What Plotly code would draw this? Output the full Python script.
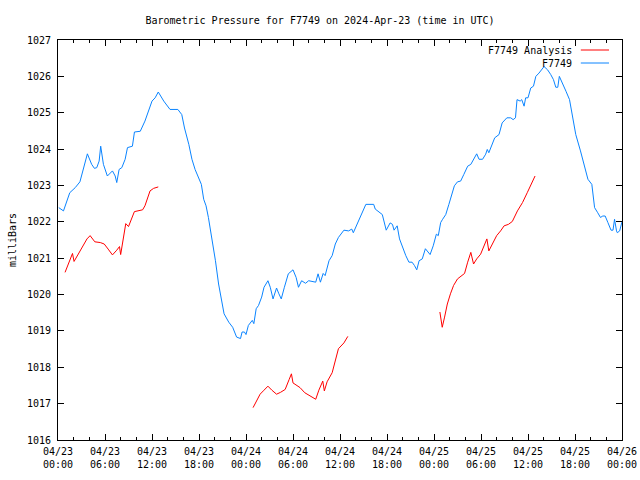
import pandas as pd
import plotly.graph_objects as go

# ---- data (hours after 2024-04-23 00:00 UTC, pressure in mb) ----
blue_hours = [0.1, 0.7, 1.5, 2.2, 2.8, 3.0, 3.45, 3.75, 4.3, 4.65, 4.95, 5.25, 5.45, 5.8, 6.3, 6.95,
              7.3, 7.5, 7.8, 8.15, 8.57, 8.87, 9.5, 9.76, 10.5, 11.1, 12.0, 12.4, 12.8, 13.5, 14.3,
              15.3, 15.8, 16.15, 16.7, 17.1, 17.5, 17.95, 18.3, 18.6, 18.9, 19.2, 19.65, 20.1, 20.5,
              20.9, 21.2, 21.8, 22.3, 22.8, 23.3, 23.5, 23.8, 24.0, 24.3, 24.8, 25.0, 25.3, 25.6,
              26.0, 26.3, 26.8, 27.1, 27.45, 27.9, 28.2, 28.5, 28.9, 29.4, 30.0, 30.4, 30.7, 31.1,
              31.6, 32.0, 32.9, 33.2, 33.5, 33.85, 34.1, 34.6, 35.0, 35.4, 35.8, 36.5, 37.1, 37.5,
              37.7, 38.2, 38.7, 39.3, 40.3, 40.5, 41.4, 41.6, 41.9, 42.4, 42.7, 42.9, 43.3, 43.6,
              43.95, 44.4, 44.8, 45.2, 45.5, 45.8, 46.1, 46.5, 46.9, 47.5, 47.9, 48.3, 48.55, 48.85,
              49.1, 49.5, 49.9, 50.3, 50.6, 51.0, 51.4, 51.8, 52.3, 52.7, 53.1, 53.45, 53.75, 54.2,
              54.6, 54.8, 55.0, 55.45, 55.75, 56.3, 56.7, 57.3, 57.8, 58.1, 58.4, 58.6, 59.0, 59.2,
              59.5, 59.7, 60.0, 60.35, 60.7, 61.0, 61.4, 62.05, 62.5, 62.9, 63.25, 63.55, 63.8, 64.0,
              64.4, 64.85, 65.3, 65.7, 66.1, 66.7, 67.2, 67.65, 68.15, 68.5, 68.9, 69.25, 69.55,
              69.85, 70.2, 70.6, 70.85, 71.05, 71.3, 71.4, 71.7, 71.9, 72.0]
blue_mb = [1022.39, 1022.3, 1022.8, 1022.94, 1023.1, 1023.26, 1023.67, 1023.87, 1023.58, 1023.47,
           1023.49, 1023.67, 1024.08, 1023.58, 1023.26, 1023.4, 1023.26, 1023.08, 1023.44, 1023.49,
           1023.72, 1024.04, 1024.08, 1024.47, 1024.49, 1024.77, 1025.32, 1025.41, 1025.57, 1025.32,
           1025.09, 1025.09, 1024.95, 1024.58, 1024.13, 1023.72, 1023.44, 1023.21, 1023.03, 1022.62,
           1022.44, 1022.12, 1021.57, 1020.93, 1020.29, 1019.84, 1019.47, 1019.24, 1019.1, 1018.83,
           1018.79, 1018.97, 1018.97, 1018.9, 1019.15, 1019.29, 1019.2, 1019.61, 1019.7, 1019.93,
           1020.2, 1020.38, 1020.2, 1019.88, 1020.18, 1020.02, 1019.88, 1020.2, 1020.57, 1020.68,
           1020.47, 1020.2, 1020.38, 1020.31, 1020.38, 1020.34, 1020.57, 1020.34, 1020.58, 1020.52,
           1020.93, 1021.07, 1021.39, 1021.57, 1021.77, 1021.75, 1021.8, 1021.7, 1021.93, 1022.2,
           1022.48, 1022.48, 1022.35, 1022.2, 1022.0, 1021.77, 1021.97, 1021.93, 1021.77, 1021.89,
           1021.53, 1021.3, 1021.07, 1020.89, 1020.89, 1020.8, 1020.68, 1020.93, 1020.98, 1021.26,
           1021.1, 1021.34, 1021.66, 1021.62, 1021.98, 1022.07, 1022.2, 1022.48, 1022.8, 1022.99,
           1023.1, 1023.12, 1023.3, 1023.53, 1023.58, 1023.72, 1023.87, 1023.72, 1023.72, 1023.86,
           1023.99, 1023.9, 1024.13, 1024.31, 1024.4, 1024.72, 1024.86, 1024.86, 1024.81, 1024.86,
           1025.36, 1025.32, 1025.36, 1025.18, 1025.41, 1025.41, 1025.68, 1025.73, 1026.0, 1026.09,
           1026.27, 1026.18, 1026.05, 1025.91, 1025.7, 1025.7, 1026.0, 1025.82, 1025.59, 1025.36,
           1024.9, 1024.4, 1023.95, 1023.53, 1023.17, 1023.03, 1022.39, 1022.25, 1022.12, 1022.16,
           1022.16, 1021.98, 1021.77, 1021.77, 1022.07, 1021.75, 1021.7, 1021.75, 1021.98, 1022.0]

red_hours = [0.9, 1.5, 1.85, 2.05, 2.6, 3.2, 3.7, 4.1, 4.7, 5.4, 5.9, 6.4, 6.95, 7.5, 7.85, 8.0,
             8.3, 8.65, 9.0, 9.4, 9.75, 10.8, 11.1, 11.75, 12.2, 12.8, None,
             24.9, 25.3, 25.8, 26.3, 26.8, 27.3, 27.9, 28.4, 29.0, 29.5, 29.8, 30.0, 30.4, 30.9,
             31.5, 32.2, 32.9, 33.3, 33.8, 34.0, 34.35, 35.0, 35.4, 35.8, 36.5, 37.0, None,
             48.75, 49.05, 49.35, 49.7, 50.1, 50.5, 51.0, 51.4, 51.9, 52.3, 52.7, 53.05, 53.45,
             53.95, 54.5, 54.75, 55.0, 55.45, 56.0, 56.5, 56.95, 57.5, 58.0, 58.65, 59.3, 59.9,
             60.5, 60.9]
red_mb = [1020.61, 1020.95, 1021.13, 1020.91, 1021.11, 1021.34, 1021.53, 1021.62, 1021.45, 1021.43,
          1021.39, 1021.25, 1021.09, 1021.22, 1021.32, 1021.1, 1021.48, 1021.95, 1021.87, 1022.07,
          1022.28, 1022.33, 1022.44, 1022.85, 1022.92, 1022.96, None,
          1016.89, 1017.05, 1017.26, 1017.37, 1017.48, 1017.37, 1017.26, 1017.31, 1017.39, 1017.66,
          1017.82, 1017.57, 1017.51, 1017.44, 1017.3, 1017.21, 1017.12, 1017.37, 1017.62, 1017.35,
          1017.6, 1017.85, 1018.15, 1018.51, 1018.67, 1018.85, None,
          1019.52, 1019.1, 1019.38, 1019.74, 1020.02, 1020.25, 1020.43, 1020.5, 1020.58, 1020.89,
          1021.16, 1020.84, 1020.98, 1021.11, 1021.39, 1021.53, 1021.2, 1021.39, 1021.62, 1021.75,
          1021.89, 1021.93, 1022.01, 1022.3, 1022.53, 1022.8, 1023.08, 1023.26]

series_names = ["F7749 Analysis", "F7749"]
series_colors = ["#ff0000", "#0a84ff"]
start = pd.Timestamp("2024-04-23 00:00")
end = pd.Timestamp("2024-04-26 00:00")
title_text = "Barometric Pressure for F7749 on 2024-Apr-23 (time in UTC)"

def to_time(hours):
    return [None if h is None else start + pd.Timedelta(hours=h) for h in hours]

FONT = "DejaVu Sans Mono"
W, H = 640, 480

fig = go.Figure()
fig.add_trace(go.Scatter(x=to_time(red_hours), y=red_mb, mode="lines", name=series_names[0],
                         line=dict(color=series_colors[0], width=1), connectgaps=False))
fig.add_trace(go.Scatter(x=to_time(blue_hours), y=blue_mb, mode="lines", name=series_names[1],
                         line=dict(color=series_colors[1], width=1)))

fig.update_layout(
    width=W, height=H,
    margin=dict(l=58, r=18, t=40, b=40, autoexpand=False),
    paper_bgcolor="white", plot_bgcolor="white",
    showlegend=False,
    font=dict(family=FONT, size=10, color="black"),
    title=dict(text=title_text, x=0.5, xanchor="center", y=1 - 20 / H, yanchor="middle",
               font=dict(family=FONT, size=10, color="black")),
)
fig.update_xaxes(
    type="date", range=[start, end], automargin=False, ticklabeloverflow="allow",
    dtick=6 * 3600 * 1000, tick0=start, tickformat="%m/%d<br>%H:%M",
    ticks="inside", ticklen=6, tickwidth=1, tickcolor="black",
    minor=dict(dtick=2 * 3600 * 1000, tick0=start, ticks="inside", ticklen=3, tickcolor="black", showgrid=False),
    showline=True, linecolor="black", linewidth=1, mirror="ticks",
    showgrid=False, zeroline=False, ticklabelstandoff=2,
    tickfont=dict(family=FONT, size=10, color="black"),
)
fig.update_yaxes(
    range=[1016, 1027], dtick=1, tick0=1016, automargin=False,
    ticks="inside", ticklen=6, tickwidth=1, tickcolor="black",
    showline=True, linecolor="black", linewidth=1, mirror="ticks",
    showgrid=False, zeroline=False, ticklabelstandoff=4,
    title=dict(text="milliBars", font=dict(family=FONT, size=10, color="black"), standoff=8),
    tickfont=dict(family=FONT, size=10, color="black"),
)

# legend in gnuplot style: text then sample line
legend_rows = [0.975, 0.9425]
for name, color, yr in zip(series_names, series_colors, legend_rows):
    fig.add_annotation(x=0.915, y=yr, xref="paper", yref="paper", text=name, showarrow=False,
                       xanchor="right", yanchor="middle", font=dict(family=FONT, size=10, color="black"))
    fig.add_shape(type="line", xref="paper", yref="paper", x0=0.927, x1=0.977, y0=yr, y1=yr,
                  line=dict(color=color, width=1))

fig.write_html("out.html", config={"displayModeBar": False},
               post_script="document.body.style.margin='0';document.body.style.overflow='hidden';")
